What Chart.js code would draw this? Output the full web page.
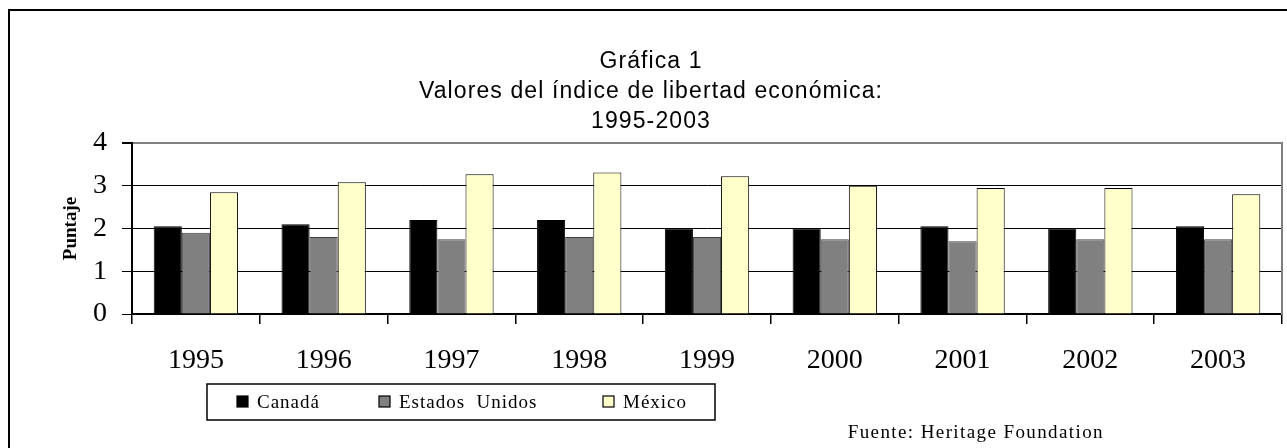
<!DOCTYPE html>
<html>
<head>
<meta charset="utf-8">
<title>Gráfica 1</title>
<script src="https://cdn.jsdelivr.net/npm/chart.js@4.4.1/dist/chart.umd.min.js"></script>
<style>
    html, body { margin: 0; padding: 0; background: #fff; }
    #chart { display: block; }
</style>
</head>
<body>
<canvas id="chart" width="1287" height="448"></canvas>
<script>
// --- DATA ---
const years = ['1995', '1996', '1997', '1998', '1999', '2000', '2001', '2002', '2003'];
const canada = [2.05, 2.1, 2.2, 2.2, 2.0, 2.0, 2.05, 2.0, 2.05];
const estadosUnidos = [1.9, 1.8, 1.75, 1.8, 1.8, 1.75, 1.7, 1.75, 1.75];
const mexico = [2.85, 3.08, 3.27, 3.31, 3.22, 3.0, 2.95, 2.95, 2.8];
const yTicks = [0, 1, 2, 3, 4];

const titleLines = ['Gráfica 1', 'Valores del índice de libertad económica:', '1995-2003'];
const yTitle = 'Puntaje';
const sourceText = 'Fuente: Heritage Foundation';

const SERIF = '"Liberation Serif", "Times New Roman", serif';
const SANS = '"Liberation Sans", Arial, sans-serif';

// frame, title, legend box and source note
const decorations = {
    id: 'decorations',
    beforeDraw(chart) {
        const ctx = chart.ctx;
        ctx.save();
        ctx.fillStyle = '#fff';
        ctx.fillRect(0, 0, chart.width, chart.height);
        ctx.strokeStyle = '#000';
        ctx.lineWidth = 2;
        ctx.beginPath();
        ctx.moveTo(9, chart.height + 2);
        ctx.lineTo(9, 10);
        ctx.lineTo(chart.width + 2, 10);
        ctx.stroke();
        ctx.restore();
    },
    afterDraw(chart) {
        const ctx = chart.ctx;
        ctx.save();

        // title
        ctx.fillStyle = '#000';
        ctx.font = '23px ' + SANS;
        ctx.letterSpacing = '1.1px';
        ctx.textAlign = 'center';
        ctx.textBaseline = 'alphabetic';
        titleLines.forEach((line, i) => ctx.fillText(line, 651, 68 + i * 30));

        // legend
        ctx.letterSpacing = '1px';
        ctx.lineWidth = 1.5;
        ctx.strokeStyle = '#000';
        ctx.strokeRect(207, 384, 508, 36);
        const itemX = [237, 379, 603];
        ctx.font = '19px ' + SERIF;
        ctx.textAlign = 'left';
        chart.data.datasets.forEach((ds, i) => {
            ctx.fillStyle = ds.backgroundColor;
            ctx.fillRect(itemX[i], 396, 11, 11);
            ctx.lineWidth = 1.2;
            ctx.strokeStyle = '#000';
            ctx.strokeRect(itemX[i], 396, 11, 11);
            ctx.fillStyle = '#000';
            ctx.fillText(ds.label, itemX[i] + 20, 408);
        });

        // source
        ctx.font = '19px ' + SERIF;
        ctx.letterSpacing = '1.4px';
        ctx.textAlign = 'right';
        ctx.fillText(sourceText, 1104, 438);
        ctx.restore();
    }
};

const ctx = document.getElementById('chart').getContext('2d');

new Chart(ctx, {
    type: 'bar',
    data: {
        labels: years,
        datasets: [
            { label: 'Canadá', data: canada, backgroundColor: '#000000', borderColor: '#000000' },
            { label: 'Estados  Unidos', data: estadosUnidos, backgroundColor: '#808080', borderColor: '#404040' },
            { label: 'México', data: mexico, backgroundColor: '#ffffcc', borderColor: '#000000' }
        ]
    },
    options: {
        responsive: false,
        animation: false,
        layout: { padding: { top: 143, right: 5, bottom: 0, left: 0 } },
        datasets: {
            bar: {
                borderWidth: 1,
                borderSkipped: 'bottom',
                categoryPercentage: 0.66,
                barPercentage: 1.0
            }
        },
        plugins: {
            legend: { display: false },
            title: { display: false },
            tooltip: { enabled: false }
        },
        scales: {
            x: {
                offset: true,
                afterFit(scale) { scale.height = 134; },
                grid: {
                    offset: true,
                    drawOnChartArea: false,
                    drawTicks: true,
                    tickLength: 10,
                    color: '#000',
                    lineWidth: 1.5
                },
                border: { color: '#000', width: 2 },
                ticks: {
                    color: '#000',
                    font: { family: SERIF, size: 28 },
                    padding: 20,
                    maxRotation: 0,
                    autoSkip: false
                }
            },
            y: {
                min: yTicks[0],
                max: yTicks[yTicks.length - 1],
                afterFit(scale) { scale.width = 132; },
                afterBuildTicks(scale) { scale.ticks = yTicks.map(v => ({ value: v })); },
                grid: {
                    color: (c) => (c.tick && c.tick.value === 4 ? '#808080' : '#000'),
                    lineWidth: (c) => (c.tick && c.tick.value === 4 ? 2 : 1),
                    tickColor: '#000',
                    tickLength: 10
                },
                border: { color: '#000', width: 2 },
                ticks: {
                    color: '#000',
                    font: { family: SERIF, size: 28 },
                    padding: 15
                },
                title: {
                    display: true,
                    text: yTitle,
                    color: '#000',
                    font: { family: SERIF, size: 19, weight: 'bold', lineHeight: 1 },
                    padding: { top: 62, bottom: 0 }
                }
            },
            y2: {
                position: 'right',
                display: true,
                afterFit(scale) { scale.width = 0; },
                grid: { drawOnChartArea: false, drawTicks: false },
                ticks: { display: false },
                border: { color: '#808080', width: 2 }
            }
        }
    },
    plugins: [decorations]
});
</script>
</body>
</html>
